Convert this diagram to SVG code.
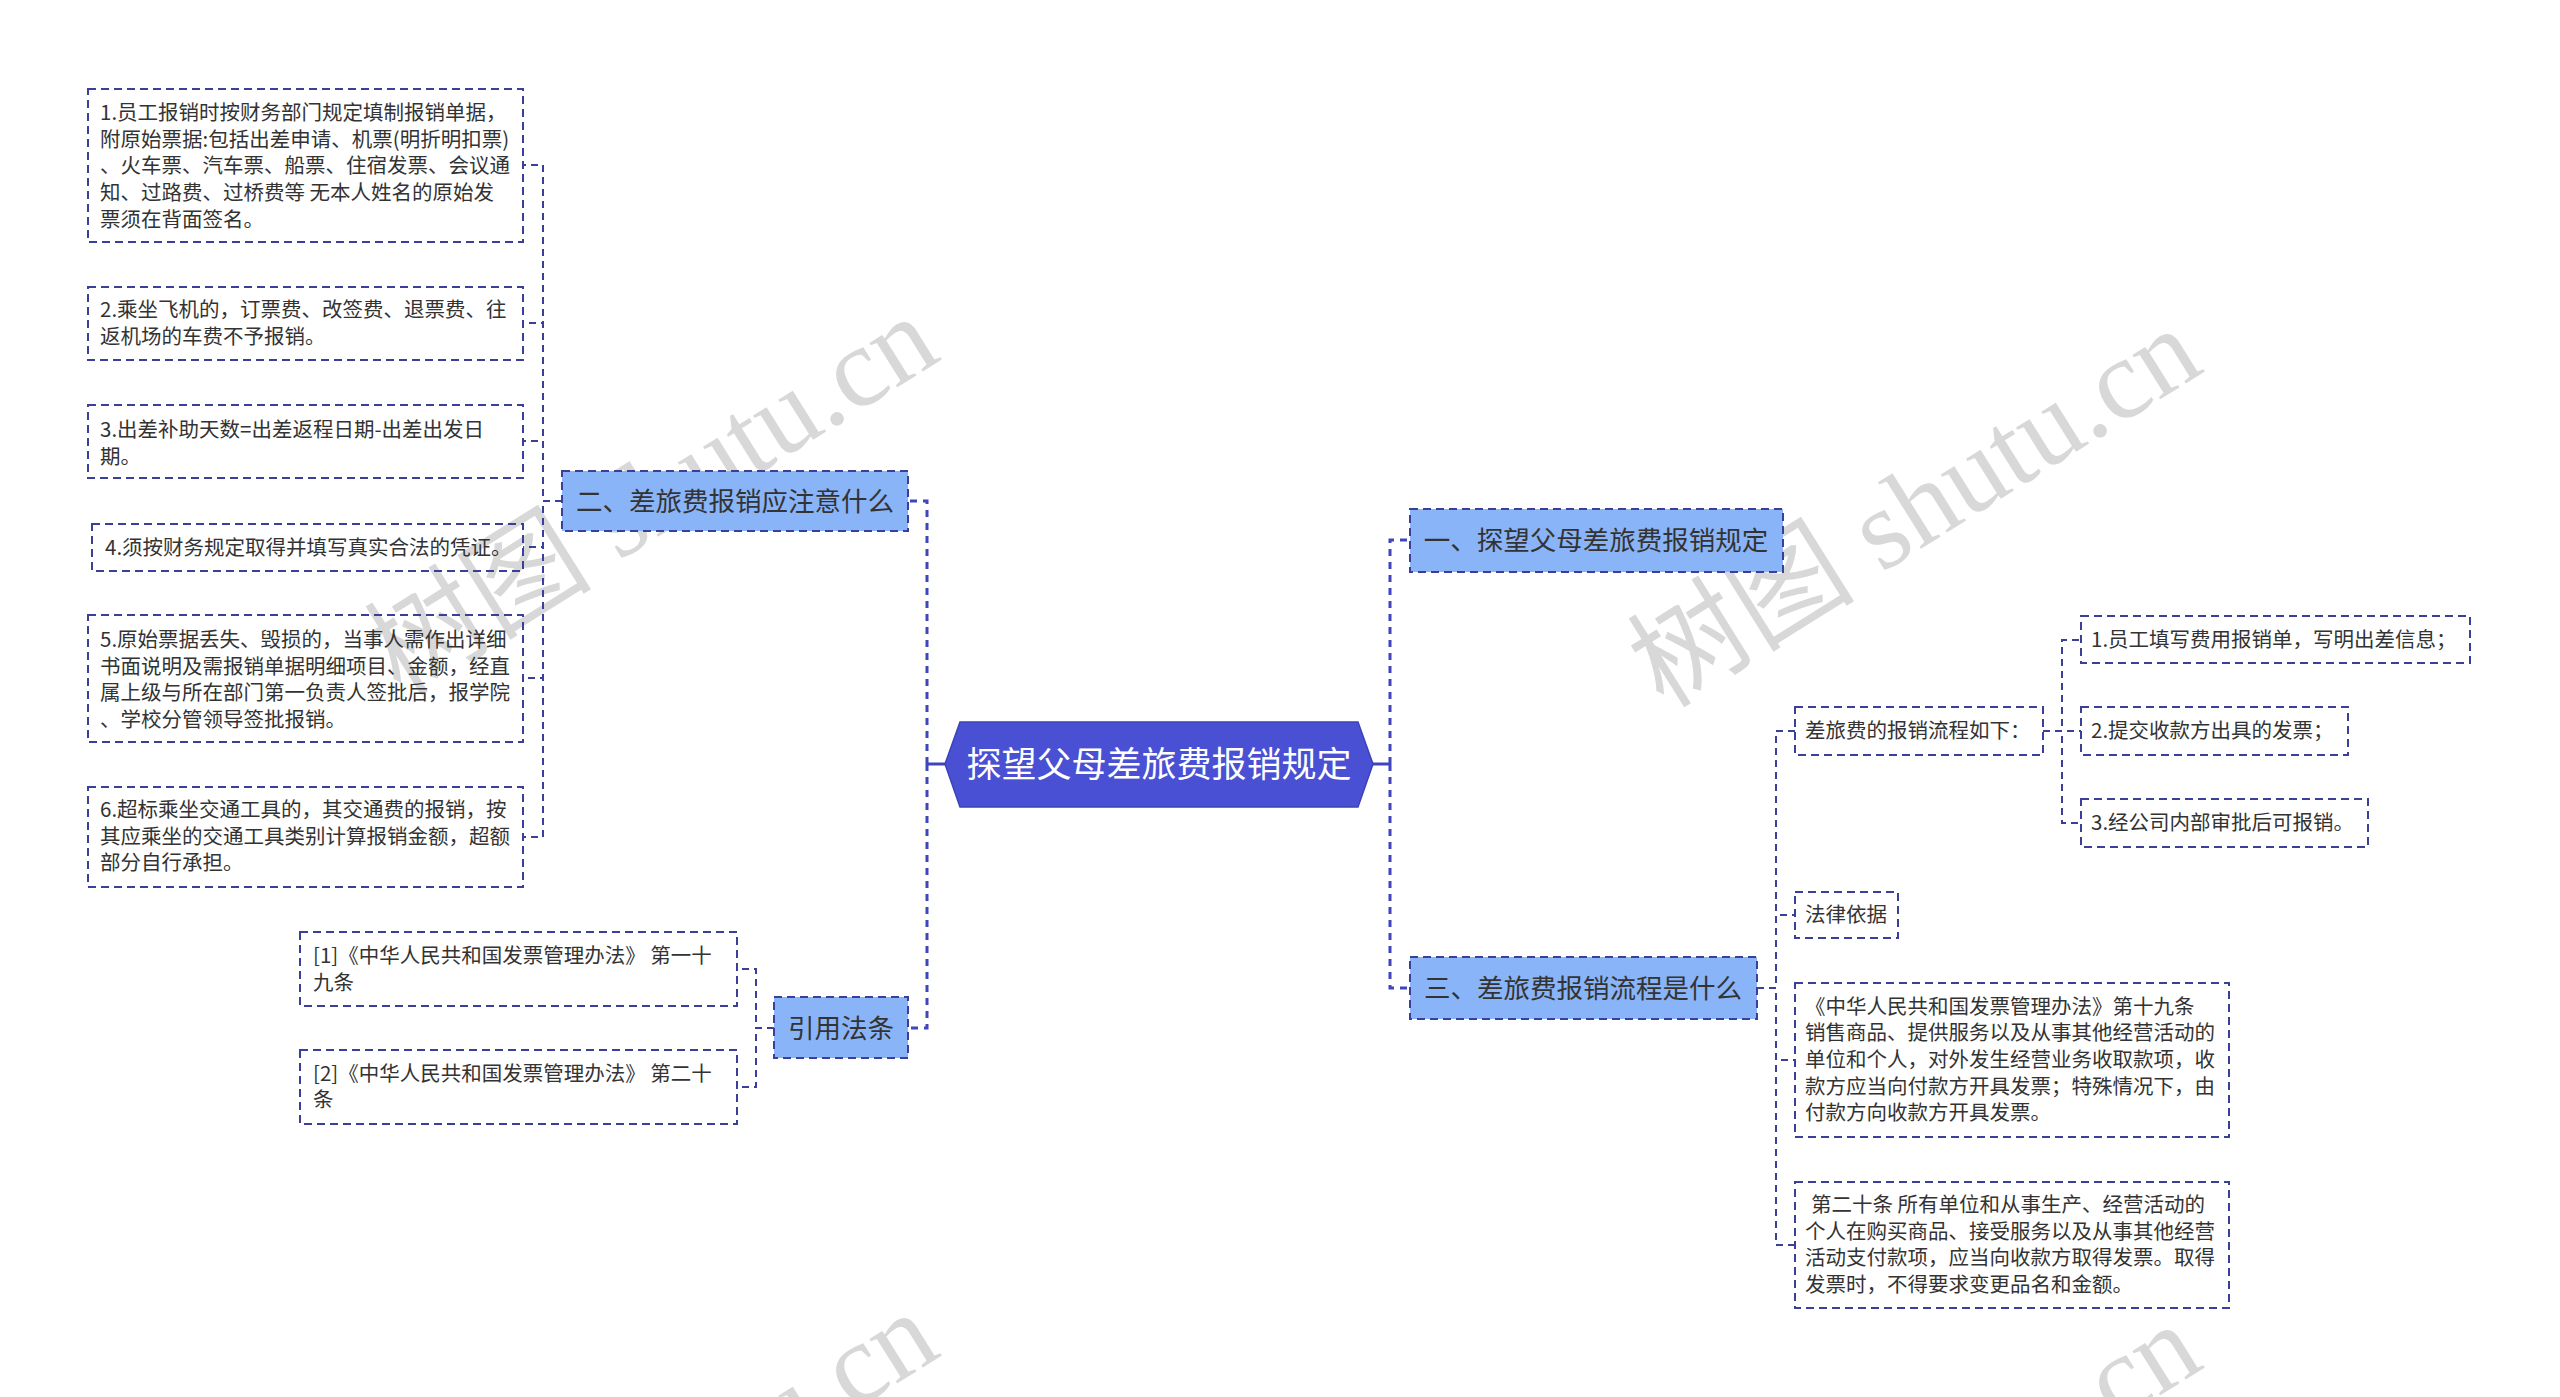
<svg xmlns="http://www.w3.org/2000/svg" width="2560" height="1397" viewBox="0 0 2560 1397">
<style>
text{font-family:"Noto Sans CJK SC","Noto Sans",sans-serif;}
.bg{fill:#ffffff;}
.leaf{fill:none;stroke:#3a3f97;stroke-width:2;stroke-dasharray:8 5;}
.l1{fill:#8ab4f8;stroke:#3a3f97;stroke-width:2;stroke-dasharray:8 5;}
.t{font-size:20.5px;fill:#333333;}
.t1{font-size:26.5px;fill:#333333;text-anchor:middle;}
.ct{font-size:35px;fill:#ffffff;text-anchor:middle;}
.c1{fill:none;stroke:#3f45bb;stroke-width:3;stroke-dasharray:7 6;}
.c1s{fill:none;stroke:#3f45bb;stroke-width:3;}
.c2{fill:none;stroke:#3a3f97;stroke-width:2;stroke-dasharray:7 5;}
.wm{font-family:"Liberation Serif","Noto Sans CJK SC",serif;font-size:114px;fill:#d8d8d8;text-anchor:middle;}
</style>
<rect class="bg" x="0" y="0" width="2560" height="1397"/>

<g id="watermarks">
  <text class="wm" transform="translate(672,528) rotate(-32)">树图 shutu.cn</text>
  <text class="wm" transform="translate(1935,540) rotate(-32)">树图 shutu.cn</text>
  <text class="wm" transform="translate(672,1524) rotate(-32)">树图 shutu.cn</text>
  <text class="wm" transform="translate(1935,1536) rotate(-32)">树图 shutu.cn</text>
</g>

<g id="connectors">
  <path class="c1s" d="M945 764 H927"/>
  <path class="c1" d="M927 764 V501 H908"/>
  <path class="c1" d="M927 764 V1028 H908"/>
  <path class="c1s" d="M1373 764 H1390"/>
  <path class="c1" d="M1390 764 V540 H1410"/>
  <path class="c1" d="M1390 764 V988 H1410"/>

  <path class="c2" d="M562 501 H543 V165 H523"/>
  <path class="c2" d="M562 501 H543 V323 H523"/>
  <path class="c2" d="M562 501 H543 V441 H523"/>
  <path class="c2" d="M562 501 H543 V547 H523"/>
  <path class="c2" d="M562 501 H543 V678 H523"/>
  <path class="c2" d="M562 501 H543 V837 H523"/>

  <path class="c2" d="M774 1028 H756 V969 H737"/>
  <path class="c2" d="M774 1028 H756 V1087 H737"/>

  <path class="c2" d="M1757 988 H1776 V731 H1795"/>
  <path class="c2" d="M1757 988 H1776 V915 H1795"/>
  <path class="c2" d="M1757 988 H1776 V1060 H1795"/>
  <path class="c2" d="M1757 988 H1776 V1245 H1795"/>

  <path class="c2" d="M2043 731 H2062 V640 H2081"/>
  <path class="c2" d="M2043 731 H2062 V731 H2081"/>
  <path class="c2" d="M2043 731 H2062 V823 H2081"/>
</g>

<g id="center">
  <polygon points="945,764 960,722 1358,722 1373,764 1358,807 960,807" fill="#4a50d4" stroke="#3c42b8" stroke-width="1.5"/>
  <text class="ct" x="1159" y="777">探望父母差旅费报销规定</text>
</g>

<g id="n-er">
  <rect class="l1" x="562" y="471" width="346" height="60"/>
  <text class="t1" x="735" y="511">二、差旅费报销应注意什么</text>
</g>
<g id="n-yinyong">
  <rect class="l1" x="774" y="997" width="134" height="61"/>
  <text class="t1" x="841" y="1038">引用法条</text>
</g>
<g id="n-yi">
  <rect class="l1" x="1410" y="509" width="373" height="63"/>
  <text class="t1" x="1596" y="550">一、探望父母差旅费报销规定</text>
</g>
<g id="n-san">
  <rect class="l1" x="1410" y="957" width="347" height="62"/>
  <text class="t1" x="1583" y="998">三、差旅费报销流程是什么</text>
</g>

<g id="l-1">
  <rect class="leaf" x="88" y="89" width="435" height="153"/>
  <text class="t" x="100" y="120">1.员工报销时按财务部门规定填制报销单据，</text>
  <text class="t" x="100" y="147">附原始票据:包括出差申请、机票(明折明扣票)</text>
  <text class="t" x="100" y="173">、火车票、汽车票、船票、住宿发票、会议通</text>
  <text class="t" x="100" y="200">知、过路费、过桥费等 无本人姓名的原始发</text>
  <text class="t" x="100" y="227">票须在背面签名。</text>
</g>
<g id="l-2">
  <rect class="leaf" x="88" y="287" width="435" height="73"/>
  <text class="t" x="100" y="317">2.乘坐飞机的，订票费、改签费、退票费、往</text>
  <text class="t" x="100" y="344">返机场的车费不予报销。</text>
</g>
<g id="l-3">
  <rect class="leaf" x="88" y="405" width="435" height="73"/>
  <text class="t" x="100" y="437">3.出差补助天数=出差返程日期-出差出发日</text>
  <text class="t" x="100" y="464">期。</text>
</g>
<g id="l-4">
  <rect class="leaf" x="92" y="524" width="431" height="47"/>
  <text class="t" x="105" y="555">4.须按财务规定取得并填写真实合法的凭证。</text>
</g>
<g id="l-5">
  <rect class="leaf" x="88" y="615" width="435" height="127"/>
  <text class="t" x="100" y="647">5.原始票据丢失、毁损的，当事人需作出详细</text>
  <text class="t" x="100" y="674">书面说明及需报销单据明细项目、金额，经直</text>
  <text class="t" x="100" y="700">属上级与所在部门第一负责人签批后，报学院</text>
  <text class="t" x="100" y="727">、学校分管领导签批报销。</text>
</g>
<g id="l-6">
  <rect class="leaf" x="88" y="787" width="435" height="100"/>
  <text class="t" x="100" y="817">6.超标乘坐交通工具的，其交通费的报销，按</text>
  <text class="t" x="100" y="844">其应乘坐的交通工具类别计算报销金额，超额</text>
  <text class="t" x="100" y="870">部分自行承担。</text>
</g>

<g id="ref-1">
  <rect class="leaf" x="300" y="932" width="437" height="74"/>
  <text class="t" x="313" y="963">[1]《中华人民共和国发票管理办法》 第一十</text>
  <text class="t" x="313" y="990">九条</text>
</g>
<g id="ref-2">
  <rect class="leaf" x="300" y="1050" width="437" height="74"/>
  <text class="t" x="313" y="1081">[2]《中华人民共和国发票管理办法》 第二十</text>
  <text class="t" x="313" y="1107">条</text>
</g>

<g id="r-flow">
  <rect class="leaf" x="1795" y="707" width="248" height="48"/>
  <text class="t" x="1805" y="738">差旅费的报销流程如下：</text>
</g>
<g id="r-flow-1">
  <rect class="leaf" x="2081" y="616" width="389" height="47"/>
  <text class="t" x="2091" y="647">1.员工填写费用报销单，写明出差信息；</text>
</g>
<g id="r-flow-2">
  <rect class="leaf" x="2081" y="707" width="267" height="48"/>
  <text class="t" x="2091" y="738">2.提交收款方出具的发票；</text>
</g>
<g id="r-flow-3">
  <rect class="leaf" x="2081" y="799" width="287" height="48"/>
  <text class="t" x="2091" y="830">3.经公司内部审批后可报销。</text>
</g>
<g id="r-law">
  <rect class="leaf" x="1795" y="892" width="103" height="46"/>
  <text class="t" x="1805" y="922">法律依据</text>
</g>
<g id="r-19">
  <rect class="leaf" x="1795" y="983" width="434" height="154"/>
  <text class="t" x="1805" y="1014">《中华人民共和国发票管理办法》第十九条</text>
  <text class="t" x="1805" y="1040">销售商品、提供服务以及从事其他经营活动的</text>
  <text class="t" x="1805" y="1067">单位和个人，对外发生经营业务收取款项，收</text>
  <text class="t" x="1805" y="1094">款方应当向付款方开具发票；特殊情况下，由</text>
  <text class="t" x="1805" y="1120">付款方向收款方开具发票。</text>
</g>
<g id="r-20">
  <rect class="leaf" x="1795" y="1182" width="434" height="126"/>
  <text class="t" x="1811" y="1212">第二十条 所有单位和从事生产、经营活动的</text>
  <text class="t" x="1805" y="1239">个人在购买商品、接受服务以及从事其他经营</text>
  <text class="t" x="1805" y="1265">活动支付款项，应当向收款方取得发票。取得</text>
  <text class="t" x="1805" y="1292">发票时，不得要求变更品名和金额。</text>
</g>
</svg>
